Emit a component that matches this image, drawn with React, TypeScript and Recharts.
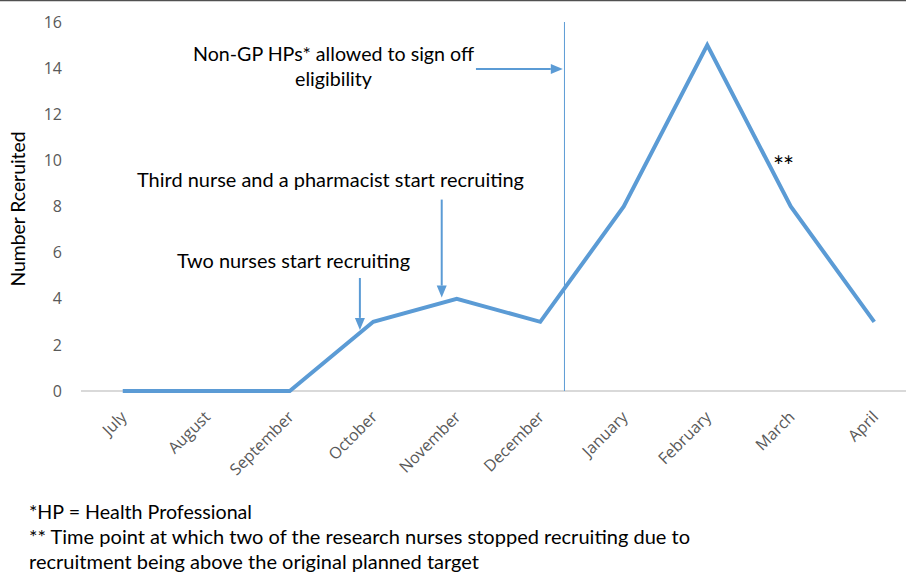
import React from "react";
import { LineChart, Line, XAxis, YAxis, ReferenceLine } from "recharts";

const months = ["July", "August", "September", "October", "November", "December", "January", "February", "March", "April"];
const recruited = [0, 0, 0, 3, 4, 3, 8, 15, 8, 3];
const yTicks = [0, 2, 4, 6, 8, 10, 12, 14, 16];
const xTicks = [0, 1, 2, 3, 4, 5, 6, 7, 8, 9];

// annotation arrows in data units (x = month index, y = count)
const arrowTwoNurses = [{ x: 2.84, y: 4.9 }, { x: 2.84, y: 2.65 }];
const arrowThirdNurse = [{ x: 3.82, y: 8.3 }, { x: 3.82, y: 4.05 }];
const arrowNonGP = [{ x: 4.23, y: 13.96 }, { x: 5.27, y: 13.96 }];
const policyChangeX = 5.29;

const data = months.map((m, i) => ({ idx: i, month: m, value: recruited[i] }));

const BLUE = "#5b9bd5";
const FONT_NOTE = "Lato, 'Open Sans', sans-serif";
const FONT_TICK = "'Open Sans', sans-serif";

const arrowShape = (props: any) => {
  const { x1, y1, x2, y2 } = props;
  const dx = x2 - x1;
  const dy = y2 - y1;
  const len = Math.sqrt(dx * dx + dy * dy) || 1;
  const ux = dx / len;
  const uy = dy / len;
  const head = 12;
  const half = 5;
  const bx = x2 - ux * head;
  const by = y2 - uy * head;
  const px = -uy * half;
  const py = ux * half;
  return (
    <g>
      <line x1={x1} y1={y1} x2={bx} y2={by} stroke={BLUE} strokeWidth={2} />
      <polygon points={`${x2},${y2} ${bx + px},${by + py} ${bx - px},${by - py}`} fill={BLUE} />
    </g>
  );
};

const XTick = (props: any) => {
  const { x, y, payload } = props;
  const label = months[payload.value] ?? "";
  const ax = x + 5;
  const ay = y + 19;
  return (
    <text
      x={ax}
      y={ay}
      textAnchor="end"
      transform={`rotate(-45, ${ax}, ${ay})`}
      fill="#595959"
      fontSize={16}
      fontFamily={FONT_TICK}
    >
      {label}
    </text>
  );
};

const chartProps = {
  width: 916,
  height: 574,
  data,
  margin: { top: 22, right: 0, bottom: 0, left: 0 },
};

export default function App() {
  return (
    <div
      style={{
        position: "absolute",
        left: 0,
        top: 0,
        width: 906,
        height: 574,
        overflow: "hidden",
        background: "#fff",
      }}
    >
      {/* background layer: category axis line, drawn beneath the data line */}
      <div style={{ position: "absolute", left: 0, top: 0 }}>
        <LineChart {...chartProps}>
          <XAxis
            type="number"
            dataKey="idx"
            domain={[-0.5, 9.5]}
            ticks={xTicks}
            height={183}
            tick={false}
            tickLine={false}
            axisLine={{ stroke: "#d9d9d9", strokeWidth: 2 }}
          />
          <YAxis type="number" domain={[0, 16]} ticks={yTicks} width={81} tick={false} tickLine={false} axisLine={false} />
          <Line dataKey="value" stroke="none" strokeWidth={0} dot={false} activeDot={false} isAnimationActive={false} />
        </LineChart>
      </div>
      {/* foreground layer */}
      <div style={{ position: "absolute", left: 0, top: 0 }}>
        <LineChart {...chartProps}>
          <XAxis
            type="number"
            dataKey="idx"
            domain={[-0.5, 9.5]}
            ticks={xTicks}
            interval={0}
            height={183}
            tickLine={false}
            axisLine={false}
            tick={<XTick />}
          />
          <YAxis
            type="number"
            domain={[0, 16]}
            ticks={yTicks}
            width={81}
            axisLine={false}
            tickLine={false}
            tickMargin={13}
            tick={{ fill: "#595959", fontSize: 16, fontFamily: FONT_TICK }}
          />
          <ReferenceLine x={policyChangeX} stroke={BLUE} strokeWidth={1} ifOverflow="visible" />
          <ReferenceLine segment={arrowTwoNurses} ifOverflow="visible" shape={arrowShape} />
          <ReferenceLine segment={arrowThirdNurse} ifOverflow="visible" shape={arrowShape} />
          <ReferenceLine segment={arrowNonGP} ifOverflow="visible" shape={arrowShape} />
          <Line
            type="linear"
            dataKey="value"
            stroke={BLUE}
            strokeWidth={4}
            dot={false}
            activeDot={false}
            isAnimationActive={false}
          />
        </LineChart>
      </div>
      <svg
        width={906}
        height={574}
        style={{ position: "absolute", left: 0, top: 0, pointerEvents: "none" }}
      >
        <line x1={0} y1={0.5} x2={906} y2={0.5} stroke="#505050" strokeWidth={1.5} />
        <text
          x={25}
          y={209}
          transform="rotate(-90, 25, 209)"
          textAnchor="middle"
          fontFamily={FONT_NOTE}
          fontSize={19}
          textLength={155}
          lengthAdjust="spacingAndGlyphs"
          fill="#000"
        >
          Number Rceruited
        </text>
        <g fontFamily={FONT_NOTE} fontSize={19} fill="#000" textAnchor="middle">
          <text x={333.5} y={61} textLength={281} lengthAdjust="spacingAndGlyphs">Non-GP HPs* allowed to sign off</text>
          <text x={333.5} y={86} textLength={77} lengthAdjust="spacingAndGlyphs">eligibility</text>
          <text x={330.5} y={187} textLength={387} lengthAdjust="spacingAndGlyphs">Third nurse and a pharmacist start recruiting</text>
          <text x={293.5} y={268} textLength={233} lengthAdjust="spacingAndGlyphs">Two nurses start recruiting</text>
          <text x={783.5} y={176} fontSize={26} textLength={21} lengthAdjust="spacing">**</text>
        </g>
        <g fontFamily={FONT_NOTE} fontSize={19} fill="#000">
          <text x={29} y={519} textLength={223} lengthAdjust="spacingAndGlyphs">*HP = Health Professional</text>
          <text x={29} y={544} textLength={661} lengthAdjust="spacingAndGlyphs">** Time point at which two of the research nurses stopped recruiting due to</text>
          <text x={29} y={569} textLength={450} lengthAdjust="spacingAndGlyphs">recruitment being above the original planned target</text>
        </g>
      </svg>
    </div>
  );
}
